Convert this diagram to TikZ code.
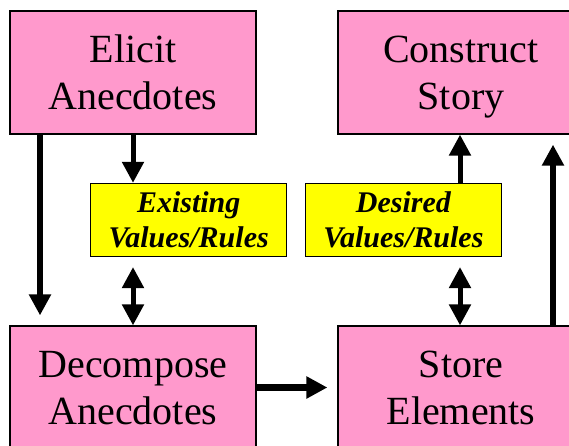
\documentclass[tikz,border=0pt]{standalone}
\usepackage{fontspec}
\setmainfont{Liberation Serif}
\usetikzlibrary{arrows.meta}
\definecolor{boxpink}{HTML}{FF99CC}
\definecolor{boxyellow}{HTML}{FFFF00}
\begin{document}
\begin{tikzpicture}[x=1pt,y=1pt,
  task/.style={draw=black,line width=1.2pt,fill=boxpink,minimum width=246pt,minimum height=123pt,
    inner sep=0pt,align=center,text depth=0pt,font=\fontsize{40}{47}\selectfont},
  rule/.style={draw=black,line width=1pt,fill=boxyellow,minimum width=196pt,minimum height=72.7pt,
    inner sep=0pt,align=center,font=\fontsize{30}{35}\selectfont\bfseries\itshape},
  bigarrow/.style={line width=6.7pt,-{Triangle[width=21pt,length=21pt]}},
  smallarrow/.style={line width=5pt,-{Triangle[width=21pt,length=21pt]}},
  twoway/.style={line width=5pt,{Triangle[width=21pt,length=21pt]}-{Triangle[width=21pt,length=21pt]}}]
\useasboundingbox (0,0) rectangle (569,445);
\clip (0,0) rectangle (569,445);
\fill[white] (0,0) rectangle (569,445);

% process boxes
\node[task] (elicit) at (133,372.5) {Elicit\\Anecdotes};
\node[task] (construct) at (461,372.5) {Construct\\Story};
\node[task] (decompose) at (133,57.5) {Decompose\\Anecdotes};
\node[task] (store) at (461,57.5) {Store\\Elements};

% value/rule boxes
\node[rule] (existing) at (188.7,225.3) {Existing\\Values/Rules};
\node[rule,minimum width=195.3pt] (desired) at (403.4,225.3) {Desired\\Values/Rules};

% connectors
\draw[bigarrow,shorten >=10pt] ([xshift=-93pt]elicit.south) -- ([xshift=-93pt]decompose.north);
\draw[smallarrow] (elicit.south) -- (elicit.south |- existing.north);
\draw[twoway,shorten <=10.5pt] (decompose.north |- existing.south) -- (decompose.north);
\draw[bigarrow,shorten >=10pt] (decompose.east) -- (store.west);
\draw[twoway,shorten <=10.5pt] ([xshift=-1pt]store.north |- desired.south) -- ([xshift=-1pt]store.north);
\draw[smallarrow] ([xshift=-1pt]construct.south |- desired.north) -- ([xshift=-1pt]construct.south);
\draw[line width=5.5pt,-{Triangle[width=21pt,length=21pt]},shorten >=10pt] ([xshift=92pt]store.north) -- ([xshift=92pt]construct.south);
\end{tikzpicture}
\end{document}
